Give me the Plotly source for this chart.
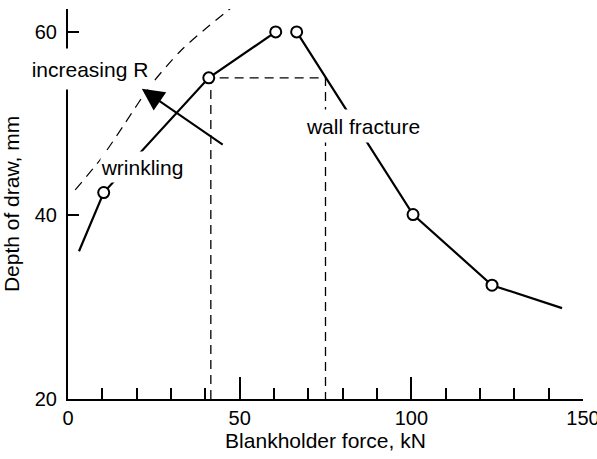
import plotly.graph_objects as go

# Measured curve: depth of draw vs blankholder force (two branches)
force_left = [3.2, 10.4, 41.0, 60.5]
depth_left = [36.1, 42.5, 55.0, 60.0]
force_right = [66.6, 100.5, 123.5, 143.9]
depth_right = [60.0, 40.1, 32.4, 29.9]

# Data points marked with open circles
marker_force = [10.4, 41.0, 60.5, 66.6, 100.5, 123.5]
marker_depth = [42.5, 55.0, 60.0, 60.0, 40.1, 32.4]

# Dashed window lines (force range at depth 55)
window_force = [41.6, 41.6, 75.0, 75.0]
window_depth = [20.0, 55.0, 55.0, 20.0]

# Dashed wrinkling limit for increasing R
limit_force = [2.1, 9.4, 16.7, 23.9, 32.7, 39.9, 48.1]
limit_depth = [42.8, 46.1, 50.1, 54.1, 57.9, 60.3, 62.8]

# Arrow (tail -> head)
arrow_tail = [45.5, 47.6]
arrow_head = [21.5, 53.8]

# Text labels
label_texts = ["increasing R", "wrinkling", "wall fracture"]
label_x = [6.55, 21.5, 85.8]
label_y = [55.96, 45.3, 49.75]
label_w = [122, 82, 114]
label_h = [40, 30, 32]

x_ticks = [0, 50, 100, 150]
y_ticks = [20, 40, 60]

FONT = "Liberation Sans, Arial, Helvetica, sans-serif"

fig = go.Figure()

fig.add_trace(go.Scatter(x=limit_force, y=limit_depth, mode="lines",
                         line=dict(color="black", width=1.2, dash="10px,7px", shape="spline", smoothing=0.8),
                         hoverinfo="skip", showlegend=False))
fig.add_trace(go.Scatter(x=window_force, y=window_depth, mode="lines",
                         line=dict(color="black", width=1.3, dash="9px,6px"),
                         hoverinfo="skip", showlegend=False))
fig.add_trace(go.Scatter(x=force_left, y=depth_left, mode="lines",
                         line=dict(color="black", width=2.2), showlegend=False))
fig.add_trace(go.Scatter(x=force_right, y=depth_right, mode="lines",
                         line=dict(color="black", width=2.2), showlegend=False))
fig.add_trace(go.Scatter(x=marker_force, y=marker_depth, mode="markers",
                         marker=dict(size=11, color="white", line=dict(color="black", width=2)),
                         showlegend=False))

for t, x, y, w, h in zip(label_texts, label_x, label_y, label_w, label_h):
    fig.add_annotation(x=x, y=y, xref="x", yref="y", text=t, showarrow=False,
                       bgcolor="white", width=w, height=h, borderpad=0,
                       font=dict(family=FONT, size=21, color="black"))

fig.add_annotation(x=arrow_head[0], y=arrow_head[1], ax=arrow_tail[0], ay=arrow_tail[1],
                   xref="x", yref="y", axref="x", ayref="y", text="", showarrow=True,
                   arrowhead=2, arrowsize=2.2, arrowwidth=2, arrowcolor="black")

fig.update_layout(
    width=597, height=459,
    margin=dict(l=68, r=14, t=9, b=60),
    paper_bgcolor="white", plot_bgcolor="white",
    font=dict(family=FONT, size=20, color="black"),
    showlegend=False,
)
fig.update_xaxes(range=[0, 150], tickvals=x_ticks, ticks="inside", ticklen=22, tickwidth=2,
                 tickcolor="black", showline=True, linecolor="black", linewidth=2,
                 showgrid=False, zeroline=False, tickfont=dict(size=20),
                 automargin=False, ticklabeloverflow="allow",
                 minor=dict(dtick=10, ticks="inside", ticklen=11, tickwidth=2, tickcolor="black", showgrid=False),
                 title=dict(text="Blankholder force, kN", font=dict(size=21), standoff=3))
fig.update_yaxes(range=[20, 62.5], tickvals=y_ticks, ticks="inside", ticklen=11, tickwidth=2,
                 tickcolor="black", showline=True, linecolor="black", linewidth=2,
                 showgrid=False, zeroline=False, tickfont=dict(size=20),
                 automargin=False, ticklabeloverflow="allow", ticklabelstandoff=5,
                 title=dict(text="Depth of draw, mm", font=dict(size=21), standoff=9))

fig.write_html("out.html", config={"displayModeBar": False, "staticPlot": True},
               post_script="document.body.style.margin='0';document.body.style.overflow='hidden';")
